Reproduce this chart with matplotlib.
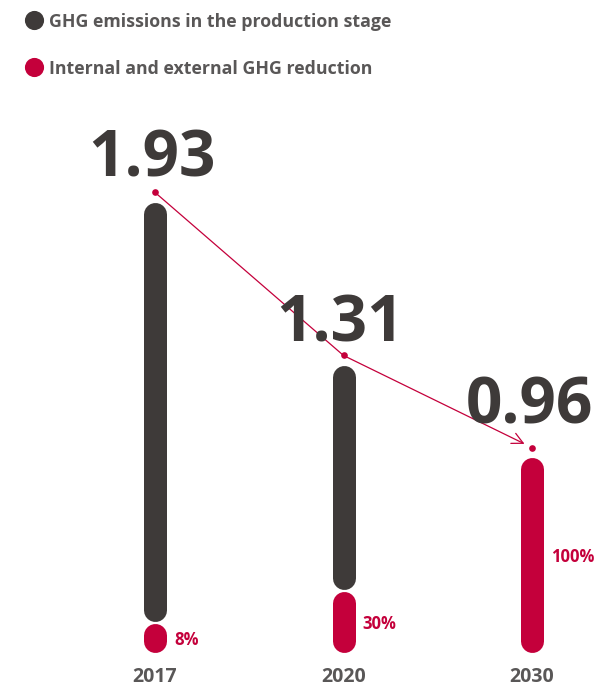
import matplotlib
matplotlib.use("Agg")
import matplotlib.pyplot as plt
from matplotlib import transforms
from matplotlib.lines import Line2D

plt.rcParams['font.family'] = ['Open Sans', 'DejaVu Sans']

# ---------------- data ----------------
years = ["2017", "2020", "2030"]
emissions = [1.93, 1.31, 0.96]            # GHG emissions in production stage
reduction_pct = [8, 30, 100]              # internal & external GHG reduction (%)
reduction_bar = [0.11, 0.23, 0.74]        # drawn length of the reduction segment (emission units)
legend_labels = ["GHG emissions in the production stage",
                 "Internal and external GHG reduction"]

# ---------------- style ----------------
DARK = "#3e3a39"
RED = "#c4003b"
GRAY = "#595757"
W, H, DPI = 600, 687, 100
axis_floor = 0.22            # value where the bars start (truncated axis)
bar_px = 23                  # bar thickness in pixels
gap_px = 2                   # gap between the two bar segments
number_gap_px = [26, 24, 34] # distance from bar top to baseline of the big number

fig = plt.figure(figsize=(W / DPI, H / DPI), dpi=DPI)
ax = fig.add_axes([0, 0, 1, 1])
ax.set_xlim(-0.8223, 2.3607)
ax.set_ylim(0.0875, 2.6996)
ax.axis("off")

x = list(range(len(years)))

# pixel -> data conversion for rounded caps
p0 = ax.transData.transform((0, 0))
p1 = ax.transData.transform((0, 1))
px_per_unit = p1[1] - p0[1]
r = (bar_px / 2) / px_per_unit
g = gap_px / px_per_unit
lw = bar_px * 72 / DPI

for xi, v, rb in zip(x, emissions, reduction_bar):
    red_top = axis_floor + rb
    # reduction segment
    ax.plot([xi, xi], [axis_floor + r, red_top - r], color=RED, lw=lw,
            solid_capstyle="round", zorder=2)
    # remaining emission segment
    if v - (red_top + g) > 2 * r:
        ax.plot([xi, xi], [red_top + g + r, v - r], color=DARK, lw=lw,
                solid_capstyle="round", zorder=2)

# dots above the bars and trend line with arrow
dot_tr = transforms.offset_copy(ax.transData, fig=fig, y=10, units="dots")
ax.plot(x, emissions, "o", color=RED, ms=4.8, mec="none", transform=dot_tr, zorder=3)
ax.plot(x[:2], emissions[:2], color=RED, lw=0.9, transform=dot_tr, zorder=3)
ax.annotate("", xy=(x[2], emissions[2]), xycoords=dot_tr,
            xytext=(x[1], emissions[1]), textcoords=dot_tr,
            arrowprops=dict(arrowstyle="->", color=RED, lw=0.9,
                            shrinkA=0, shrinkB=6, mutation_scale=20))

# big value labels
for xi, v, gp in zip(x, emissions, number_gap_px):
    tr = transforms.offset_copy(ax.transData, fig=fig, x=-3, y=gp, units="dots")
    ax.text(xi, v, f"{v:.2f}", transform=tr, ha="center", va="baseline",
            fontsize=46, fontweight="bold", color=DARK)

# percentage labels next to reduction segments
pct_tr = transforms.offset_copy(ax.transData, fig=fig, x=19, units="dots")
for xi, p, rb in zip(x, reduction_pct, reduction_bar):
    ax.text(xi, axis_floor + rb / 2, f"{p}%", transform=pct_tr, ha="left",
            va="center_baseline", fontsize=12, fontweight="bold", color=RED)

# year labels
yr_tr = transforms.offset_copy(ax.transData, fig=fig, y=-22.5, units="dots")
for xi, yr in zip(x, years):
    ax.text(xi, axis_floor, yr, transform=yr_tr, ha="center",
            va="center_baseline", fontsize=14, fontweight="bold", color=GRAY)

# legend
for i, (lab, col) in enumerate(zip(legend_labels, [DARK, RED])):
    yc = 1 - (20 + 47 * i) / H
    fig.add_artist(Line2D([34 / W], [yc], marker="o", ms=13.8, color=col,
                          mec="none", transform=fig.transFigure))
    fig.text(49 / W, yc, lab, ha="left", va="center_baseline", fontsize=12.8,
             fontweight="bold", color=GRAY)

fig.savefig("out.png", dpi=DPI)
